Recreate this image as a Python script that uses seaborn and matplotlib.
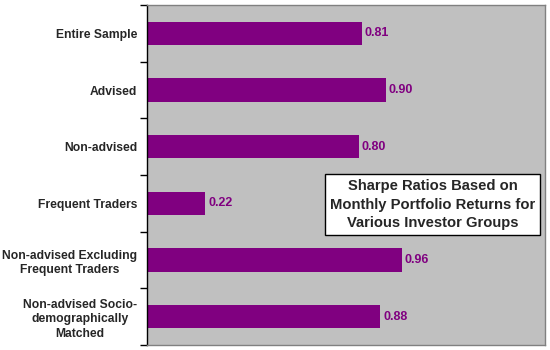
import matplotlib
matplotlib.use("Agg")
import matplotlib.pyplot as plt
import seaborn as sns
import pandas as pd
import numpy as np
from matplotlib.ticker import FixedLocator

groups = ["Entire Sample", "Advised", "Non-advised", "Frequent Traders",
          "Non-advised Excluding\nFrequent Traders",
          "Non-advised Socio-\ndemographically\nMatched"]
sharpe = [0.81, 0.90, 0.80, 0.22, 0.96, 0.88]
value_labels = ["0.81", "0.90", "0.80", "0.22", "0.96", "0.88"]
title_text = "Sharpe Ratios Based on\nMonthly Portfolio Returns for\nVarious Investor Groups"

sns.set_theme(style="white")
plt.rcParams["font.family"] = ["Liberation Sans", "DejaVu Sans"]

df = pd.DataFrame({"group": groups, "sharpe": sharpe})

fig = plt.figure(figsize=(5.5, 3.5), dpi=100)
ax = fig.add_axes([147/550, 5/350, 398/550, 340/350])
ax.set_facecolor("#c0c0c0")

sns.barplot(data=df, x="sharpe", y="group", orient="h", color="#800080",
            saturation=1, width=0.41, linewidth=0, ax=ax)

ax.set_xlim(0, 1.5)
ax.set_ylim(5.5, -0.5)
ax.set_xlabel("")
ax.set_ylabel("")
ax.set_xticks([])

for lab in ax.get_yticklabels():
    lab.set_fontweight("bold")
    lab.set_fontsize(8.7)
    lab.set_horizontalalignment("right")
    lab.set_multialignment("center")
    lab.set_linespacing(1.25)
ax.tick_params(axis="y", length=0, pad=7)

ax.yaxis.set_minor_locator(FixedLocator(np.arange(-0.5, 6.0, 1.0)))
ax.tick_params(axis="y", which="minor", length=5, width=1, color="black", direction="out", left=True)

for p, txt in zip(ax.patches, value_labels):
    w = p.get_width()
    y = p.get_y() + p.get_height() / 2
    ax.text(w + 0.01, y, txt, color="#800080", fontweight="bold", fontsize=9,
            va="center", ha="left")

for side in ["top", "right", "bottom"]:
    ax.spines[side].set_visible(True)
    ax.spines[side].set_color("#808080")
    ax.spines[side].set_linewidth(1)
ax.spines["left"].set_color("black")
ax.spines["left"].set_linewidth(1)

ax.text(0.7175, 0.413, title_text, transform=ax.transAxes, ha="center", va="center",
        fontsize=10.6, fontweight="bold", linespacing=1.4,
        bbox=dict(boxstyle="square,pad=0.35", facecolor="white", edgecolor="black", linewidth=1))

fig.savefig("out.png", dpi=100)
